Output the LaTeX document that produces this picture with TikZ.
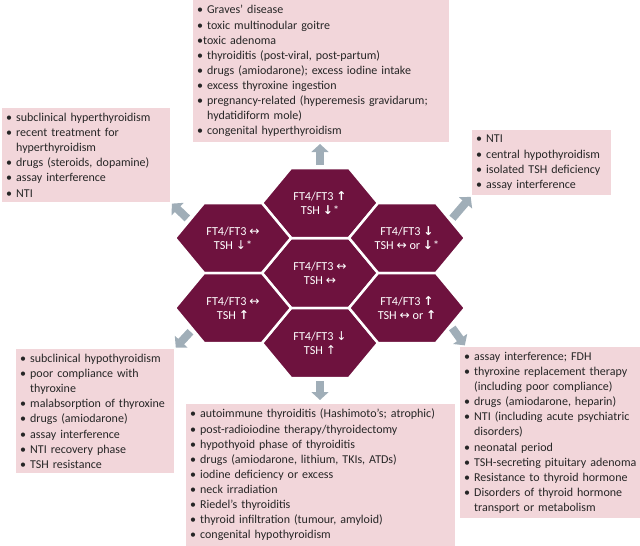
\documentclass[tikz,border=0pt]{standalone}
\usepackage{fontspec}
\setmainfont{Carlito}
\newfontfamily\arrowfont{DejaVu Sans}
\usetikzlibrary{calc,arrows.meta}
\hyphenpenalty=10000
\exhyphenpenalty=10000

\definecolor{hexred}{RGB}{110,18,62}
\definecolor{boxpink}{RGB}{242,214,218}
\definecolor{arrowgrey}{RGB}{160,174,184}

\newcommand{\arU}{{\arrowfont\bfseries ↑}}
\newcommand{\arD}{{\arrowfont\bfseries ↓}}
\newcommand{\arDt}{{\arrowfont ↓}}
\newcommand{\arLR}{{\arrowfont ↔}}
\newcommand{\cont}{\phantom{•~}}

\tikzset{
	hexface/.style={fill=hexred, draw=white, line width=2.5pt, line join=round},
	hexlabel/.style={text=white, align=center, minimum width=116pt, minimum height=70pt, inner sep=0pt, font=\fontsize{12.2}{14}\selectfont},
	causebox/.style={fill=boxpink, text=black!85, anchor=north west, align=left, inner xsep=4pt, inner ysep=5pt, font=\fontsize{12}{15.1}\selectfont},
	fatarrow/.style={draw=arrowgrey, line width=8pt, -{Triangle[width=17pt,length=8pt]}, shorten <=3pt, shorten >=2pt}
}

\newcommand{\hexcell}[3]{%
	\filldraw[hexface] (#2) ++(-58,0) -- ++(29,-35) -- ++(58,0) -- ++(29,35) -- ++(-29,35) -- ++(-58,0) -- cycle;
	\node[hexlabel] (#1) at (#2) {#3};
	\coordinate (#1-nw) at ($(#2)+(-43.5,-17.5)$);
	\coordinate (#1-ne) at ($(#2)+(43.5,-17.5)$);
	\coordinate (#1-sw) at ($(#2)+(-43.5,17.5)$);
	\coordinate (#1-se) at ($(#2)+(43.5,17.5)$);
}

\begin{document}
\begin{tikzpicture}[x=1pt, y=-1pt]
		\useasboundingbox (0,0) rectangle (640,546);

		\hexcell{hC}{320,273}{FT4/FT3 \arLR\\TSH \arLR}
		\hexcell{hT}{320,203}{FT4/FT3 \arU\\TSH \arD*}
		\hexcell{hB}{320,343}{FT4/FT3 \arDt\\TSH {\arrowfont ↑}}
		\hexcell{hUL}{233,238}{FT4/FT3 \arLR\\TSH \arDt*}
		\hexcell{hUR}{407,238}{FT4/FT3 \arD\\TSH \arLR{} or \arD*}
		\hexcell{hLL}{233,308}{FT4/FT3 \arLR\\TSH \arU}
		\hexcell{hLR}{407,308}{FT4/FT3 \arU\\TSH \arLR{} or \arU}

		\node[causebox, anchor=south west, text width=248pt] (boxT) at (193,142) {%
			• Graves’ disease\\
			• toxic multinodular goitre\\
			•toxic adenoma\\
			• thyroiditis (post-viral, post-partum)\\
			• drugs (amiodarone); excess iodine intake\\
			• excess thyroxine ingestion\\
			• pregnancy-related (hyperemesis gravidarum;\\
			\cont hydatidiform mole)\\
			• congenital hyperthyroidism};

		\node[causebox, text width=160pt] (boxUL) at (2,108) {%
			• subclinical hyperthyroidism\\
			• recent treatment for\\
			\cont hyperthyroidism\\
			• drugs (steroids, dopamine)\\
			• assay interference\\
			• NTI};

		\node[causebox, text width=131pt] (boxUR) at (472,130) {%
			• NTI\\
			• central hypothyroidism\\
			• isolated TSH deficiency\\
			• assay interference};

		\node[causebox, text width=150pt] (boxLL) at (16,349) {%
			• subclinical hypothyroidism\\
			• poor compliance with\\
			\cont thyroxine\\
			• malabsorption of thyroxine\\
			• drugs (amiodarone)\\
			• assay interference\\
			• NTI recovery phase\\
			• TSH resistance};

		\node[causebox, text width=261pt] (boxB) at (186,404) {%
			• autoimmune thyroiditis (Hashimoto’s; atrophic)\\
			• post-radioiodine therapy/thyroidectomy\\
			• hypothyoid phase of thyroiditis\\
			• drugs (amiodarone, lithium, TKIs, ATDs)\\
			• iodine deficiency or excess\\
			• neck irradiation\\
			• Riedel’s thyroiditis\\
			• thyroid infiltration (tumour, amyloid)\\
			• congenital hypothyroidism};

		\node[causebox, text width=174pt] (boxLR) at (460,347) {%
			• assay interference; FDH\\
			• thyroxine replacement therapy\\
			\cont (including poor compliance)\\
			• drugs (amiodarone, heparin)\\
			• NTI (including acute psychiatric\\
			\cont disorders)\\
			• neonatal period\\
			\mbox{• TSH-secreting pituitary adenoma}\\
			• Resistance to thyroid hormone\\
			• Disorders of thyroid hormone\\
			\cont transport or metabolism};

		\draw[fatarrow] (hT.north) -- (hT.north |- boxT.south);
		\draw[fatarrow, shorten >=4pt] (hB.south) -- (hB.south |- boxB.north);
		\draw[fatarrow] (hUL-nw) -- (boxUL.south east);
		\draw[fatarrow] (hUR-ne) -- (boxUR.south west);
		\draw[fatarrow] ($(hLL-sw)+(3,4)$) -- (boxLL.north east);
		\draw[fatarrow] (hLR-se) -- ($(boxLR.north west)+(6,0)$);
	\end{tikzpicture}
\end{document}
